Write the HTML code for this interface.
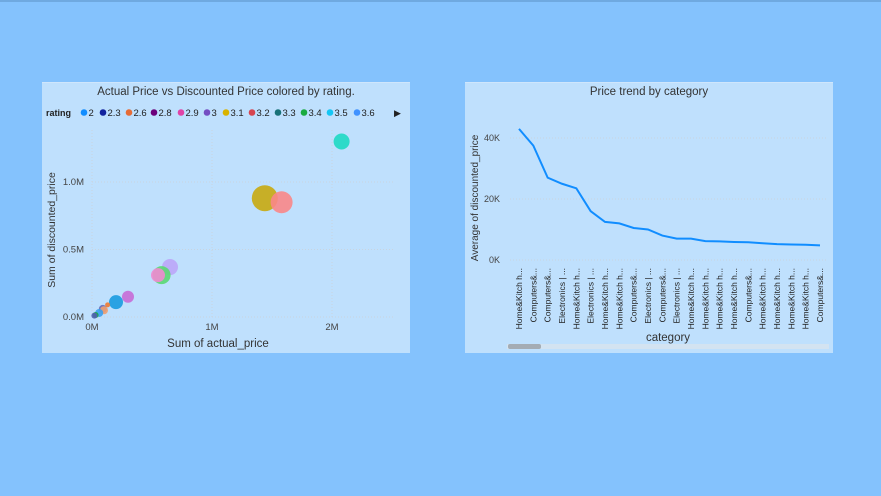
<!DOCTYPE html>
<html><head><meta charset="utf-8"><style>
body{margin:0;width:881px;height:496px;background:#84c2fd;font-family:"Liberation Sans",sans-serif;overflow:hidden;position:relative}
.panel{position:absolute;background:#bfe0fd;border-top:1px solid #cfe6fc}
svg{position:absolute;left:0;top:0}
</style></head><body>
<div style="position:absolute;left:0;top:0;width:881px;height:2px;background:#6fa9e0"></div>
<div class="panel" style="left:42px;top:82px;width:368px;height:270px"></div>
<div class="panel" style="left:465px;top:82px;width:368px;height:270px"></div>
<svg width="881" height="496" id="s">
<text x="226" y="95" text-anchor="middle" font-size="11.5" fill="#333">Actual Price vs Discounted Price colored by rating.</text>
<text x="649" y="95" text-anchor="middle" font-size="11.5" fill="#333">Price trend by category</text>
<g id="legend"></g>
<g id="sc"></g>
<g id="ln"></g>
</svg>
<script>
const ratings=["2","2.3","2.6","2.8","2.9","3","3.1","3.2","3.3","3.4","3.5","3.6"];
const ratingColors=["#118dff","#12239e","#e66c37","#6b007b","#e044a7","#744ec2","#d9b300","#d64550","#197278","#1aab40","#15c6f4","#4092ff"];
const actual=[2.08,1.44,1.58,0.65,0.58,0.55,0.3,0.2,0.13,0.09,0.1,0.06,0.03,0.02];
const discounted=[1.3,0.88,0.85,0.37,0.31,0.31,0.15,0.11,0.09,0.06,0.05,0.03,0.015,0.01];
const sizes=[8,13,11,8,9,7,6,7,2.5,4,4,4,3,3];
const bubbleColors=["#1ed9c3","#c8aa10","#fa8788","#bba6f8","#5ad872","#ef8ad0","#c66bd6","#1a9be0","#f07a30","#6a6fb8","#f0a070","#3aa0f0","#1aab40","#5060b0"];
const categories=["Home&Kitch h...","Computers&...","Computers&...","Electronics | ...","Home&Kitch h...","Electronics | ...","Home&Kitch h...","Home&Kitch h...","Computers&...","Electronics | ...","Computers&...","Electronics | ...","Home&Kitch h...","Home&Kitch h...","Home&Kitch h...","Home&Kitch h...","Computers&...","Home&Kitch h...","Home&Kitch h...","Home&Kitch h...","Home&Kitch h...","Computers&..."];
const avgPrice=[43,37.5,27,25,23.5,16,12.5,12,10.5,10,8,7,7,6.2,6.1,5.9,5.8,5.5,5.2,5.1,5,4.8];
const xTicks=[0,1,2],xTickLabels=["0M","1M","2M"];
const yTicks=[0,0.5,1.0],yTickLabels=["0.0M","0.5M","1.0M"];
const lTicks=[0,20,40],lTickLabels=["0K","20K","40K"];
const NS="http://www.w3.org/2000/svg";
function el(p,t,a,txt){const e=document.createElementNS(NS,t);for(const k in a)e.setAttribute(k,a[k]);if(txt!=null)e.textContent=txt;p.appendChild(e);return e;}
const sx=v=>92+v*120, sy=v=>317-v*135;
const lx=i=>519+i*(820-519)/(categories.length-1), ly=v=>260-v*3.05;
// legend
const lg=document.getElementById('legend');
let t=el(lg,'text',{x:46,y:116,'font-size':9,'font-weight':'bold',fill:'#222'},'rating');


const lxs=[84,103,129,154,181,207,226,252,278,304,330,357];
ratings.forEach((r,i)=>{const g=el(lg,'g',{});


el(g,'circle',{cx:lxs[i],cy:112.5,r:3.3,fill:ratingColors[i]});
el(g,'text',{x:lxs[i]+4.5,y:116,'font-size':9.5,fill:'#222'},r);});
t=el(lg,'text',{x:394,y:116,'font-size':9,fill:'#222'},'▶');


// scatter
const sc=document.getElementById('sc');
xTicks.forEach((v,i)=>{el(sc,'line',{x1:sx(v),x2:sx(v),y1:130,y2:317,stroke:'#c8d4e0','stroke-dasharray':'1,2'});
const tt=el(sc,'text',{x:sx(v),y:330,'text-anchor':'middle','font-size':9.5,fill:'#444'},xTickLabels[i]);

});
yTicks.forEach((v,i)=>{el(sc,'line',{x1:92,x2:393,y1:sy(v),y2:sy(v),stroke:'#c8d4e0','stroke-dasharray':'1,2'});
const tt=el(sc,'text',{x:84,y:sy(v)+3,'text-anchor':'end','font-size':9.5,fill:'#444'},yTickLabels[i]);

});
actual.forEach((a,i)=>{const c=el(sc,'circle',{cx:sx(a),cy:sy(discounted[i]),r:sizes[i],fill:bubbleColors[i],'fill-opacity':0.9});

});
t=el(sc,'text',{x:218,y:347,'text-anchor':'middle','font-size':11.5,fill:'#333'},'Sum of actual_price');


t=el(sc,'text',{x:0,y:0,'text-anchor':'middle','font-size':10.5,fill:'#333',transform:'translate(55,230) rotate(-90)'},'Sum of discounted_price');


// line
const ln=document.getElementById('ln');
lTicks.forEach((v,i)=>{el(ln,'line',{x1:510,x2:828,y1:ly(v),y2:ly(v),stroke:'#c8d4e0','stroke-dasharray':'1,2'});
const tt=el(ln,'text',{x:500,y:ly(v)+3,'text-anchor':'end','font-size':9,fill:'#444'},lTickLabels[i]);

});
const path=el(ln,'polyline',{points:avgPrice.map((v,i)=>lx(i)+','+ly(v)).join(' '),fill:'none',stroke:'#118dff','stroke-width':2});


categories.forEach((c,i)=>{const tt=el(ln,'text',{x:0,y:0,'text-anchor':'end','font-size':8.5,fill:'#222',transform:`translate(${lx(i)+3},268) rotate(-90)`},c);

});
t=el(ln,'text',{x:668,y:341,'text-anchor':'middle','font-size':11.5,fill:'#333'},'category');


t=el(ln,'text',{x:0,y:0,'text-anchor':'middle','font-size':10,fill:'#333',transform:'translate(478,198) rotate(-90)'},'Average of discounted_price');


el(ln,'rect',{x:507,y:344,width:322,height:5,fill:'#d3e3f1'});
t=el(ln,'rect',{x:508,y:344,width:33,height:5,rx:2,fill:'#a4acb4'});


</script>
</body></html>
